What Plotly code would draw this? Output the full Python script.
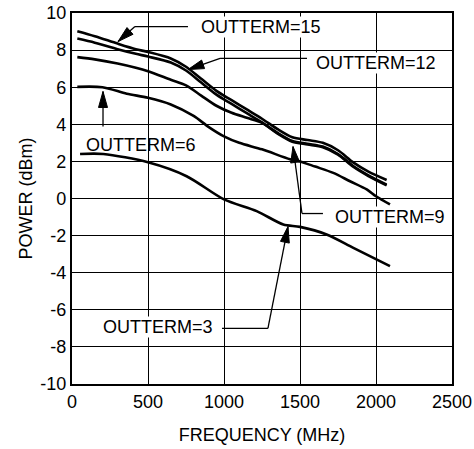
import math
import plotly.graph_objects as go

# ---- data ----
f15 = [35, 150, 300, 420, 500, 650, 750, 850, 950, 1050, 1150, 1250, 1350, 1450, 1550, 1650, 1750, 1850, 1950, 2070]
p15 = [9.02, 8.75, 8.35, 8.05, 7.9, 7.55, 7.1, 6.45, 5.8, 5.3, 4.8, 4.3, 3.75, 3.3, 3.15, 3.0, 2.6, 1.95, 1.45, 1.0]

f12 = [35, 150, 300, 420, 500, 650, 750, 850, 950, 1050, 1150, 1250, 1350, 1450, 1550, 1650, 1750, 1850, 1950, 2070]
p12 = [8.62, 8.4, 8.05, 7.8, 7.65, 7.33, 6.9, 6.25, 5.6, 5.1, 4.6, 4.1, 3.55, 3.1, 2.95, 2.8, 2.4, 1.75, 1.25, 0.75]

f9 = [35, 150, 300, 420, 500, 650, 750, 850, 950, 1050, 1150, 1250, 1350, 1450, 1550, 1650, 1750, 1850, 1950, 2070]
p9 = [7.62, 7.5, 7.28, 7.05, 6.86, 6.4, 6.1, 5.55, 5.0, 4.62, 4.35, 4.08, 3.51, 3.06, 2.91, 2.76, 2.36, 1.71, 1.21, 0.71]

f6 = [35, 200, 360, 500, 650, 800, 900, 1000, 1100, 1250, 1434, 1500, 1600, 1719, 1829, 1939, 2000, 2092]
p6 = [6.02, 6.0, 5.65, 5.43, 5.07, 4.45, 3.85, 3.35, 3.0, 2.65, 2.12, 2.0, 1.72, 1.38, 0.93, 0.49, 0.12, -0.32]

f3 = [53, 206, 500, 754, 1000, 1215, 1390, 1500, 1675, 1851, 2092]
p3 = [2.4, 2.4, 1.95, 1.2, -0.05, -0.68, -1.4, -1.53, -1.94, -2.66, -3.65]

x_ticks = [0, 500, 1000, 1500, 2000, 2500]
y_ticks = [-10, -8, -6, -4, -2, 0, 2, 4, 6, 8, 10]

# label annotations: text, (x, y) of label, white box?, leader polyline ending at arrow tip
labels = [
    ("OUTTERM=15", (1243, 9.27), True, [(763, 9.27), (414, 9.27), (303, 8.46)]),
    ("OUTTERM=12", (2000, 7.28), True, [(1546, 7.55), (974, 7.55), (763, 6.95)]),
    ("OUTTERM=6", (454, 2.91), False, [(204, 3.88), (204, 5.77)]),
    ("OUTTERM=9", (2092, -1.02), True, [(1651, -0.81), (1513, -0.81), (1454, 2.80)]),
    ("OUTTERM=3", (566, -6.95), True, [(987, -7.0), (1289, -7.0), (1421, -1.51)]),
]

FONT = "Liberation Sans, Arial, sans-serif"
W, H = 474, 449
ML, MR, MT, MB = 72, 22, 13, 65
XR, YR = [0, 2500], [-10, 10]
SX = (W - ML - MR) / (XR[1] - XR[0])   # px per MHz
SY = (H - MT - MB) / (YR[1] - YR[0])   # px per dB

fig = go.Figure()
for fx, py in [(f15, p15), (f12, p12), (f9, p9), (f6, p6), (f3, p3)]:
    fig.add_trace(go.Scatter(x=fx, y=py, mode="lines",
                             line=dict(color="black", width=2.6, shape="spline", smoothing=0.8),
                             showlegend=False, hoverinfo="skip"))

shapes = []
annotations = []
AL, AW = 16, 4.5  # arrowhead length / half width, px
for text, (tx, ty), box, pts in labels:
    for (x0, y0), (x1, y1) in zip(pts[:-1], pts[1:]):
        shapes.append(dict(type="line", xref="x", yref="y", x0=x0, y0=y0, x1=x1, y1=y1,
                           line=dict(color="black", width=1.3), layer="above"))
    (ax, ay), (hx, hy) = pts[-2], pts[-1]
    dx, dy = (hx - ax) * SX, (hy - ay) * SY
    n = math.hypot(dx, dy)
    ux, uy = dx / n, dy / n
    bx, by = -ux * AL, -uy * AL
    c1 = (hx + (bx - uy * AW) / SX, hy + (by + ux * AW) / SY)
    c2 = (hx + (bx + uy * AW) / SX, hy + (by - ux * AW) / SY)
    path = f"M{hx},{hy} L{c1[0]},{c1[1]} L{c2[0]},{c2[1]} Z"
    shapes.append(dict(type="path", xref="x", yref="y", path=path,
                       fillcolor="black", line=dict(color="black", width=1), layer="above"))
    annotations.append(dict(x=tx, y=ty, xref="x", yref="y", text=text, showarrow=False,
                            font=dict(family=FONT, size=18, color="black"),
                            bgcolor="white" if box else "rgba(0,0,0,0)", borderpad=0))

fig.update_layout(
    width=W, height=H,
    margin=dict(l=ML, r=MR, t=MT, b=MB, autoexpand=False),
    paper_bgcolor="white", plot_bgcolor="white",
    font=dict(family=FONT, size=18, color="black"),
    shapes=shapes, annotations=annotations,
    xaxis=dict(range=XR, tickvals=x_ticks, ticktext=[str(v) for v in x_ticks],
               showgrid=True, gridcolor="black", gridwidth=1.3,
               showline=True, linecolor="black", linewidth=2.2, mirror=True,
               zeroline=False, ticks="", automargin=False,
               title=dict(text="FREQUENCY (MHz)", font=dict(size=18), standoff=18)),
    yaxis=dict(range=YR, tickvals=y_ticks, ticktext=[str(v) for v in y_ticks],
               showgrid=True, gridcolor="black", gridwidth=1.3,
               showline=True, linecolor="black", linewidth=2.2, mirror=True,
               zeroline=False, ticks="", automargin=False,
               title=dict(text="POWER (dBm)", font=dict(size=18), standoff=3)),
)

fig.write_html("out.html", post_script="document.body.style.margin='0';",
               config={"displayModeBar": False})
